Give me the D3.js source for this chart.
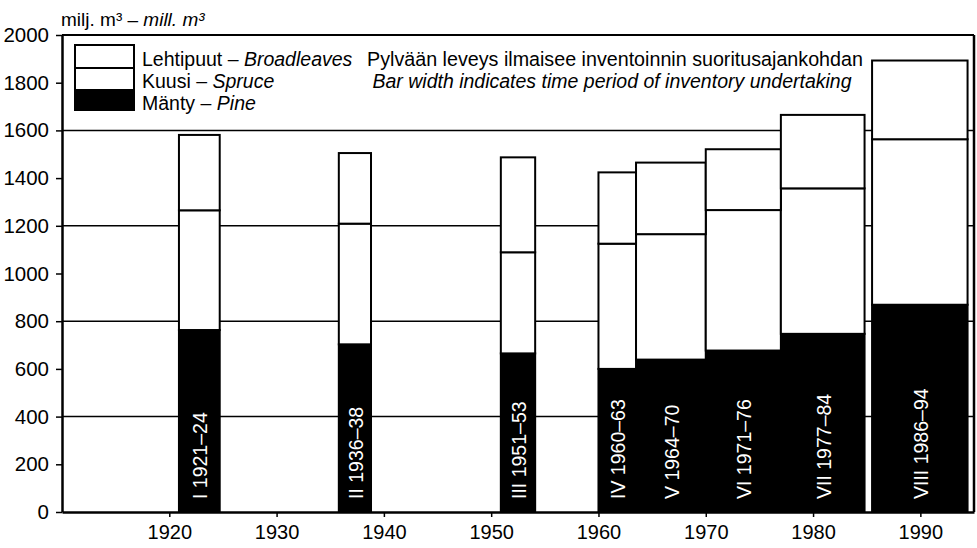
<!DOCTYPE html>
<html>
<head>
<meta charset="utf-8">
<script src="https://cdn.jsdelivr.net/npm/d3@7"></script>
<style>
  body { margin: 0; background: #fff; }
  svg { display: block; font-family: "Liberation Sans", Arial, sans-serif; }
</style>
</head>
<body>
<svg id="chart"></svg>
<script>
// inventory rounds, their periods and volumes (mill. m3)
var inventories = ['I', 'II', 'III', 'IV', 'V', 'VI', 'VII', 'VIII']
var periods = ['1921–24', '1936–38', '1951–53', '1960–63', '1964–70', '1971–76', '1977–84', '1986–94']
var startYear = [1920.9, 1935.8, 1950.9, 1960.0, 1963.5, 1970.0, 1977.0, 1985.5]
var endYear = [1924.7, 1938.8, 1954.1, 1963.5, 1970.0, 1977.0, 1984.8, 1994.4]
var pine = [763, 703, 665, 600, 639, 677, 747, 869]
var spruce = [502, 506, 424, 525, 526, 589, 610, 694]
var broadleaves = [316, 296, 398, 299, 300, 255, 308, 330]

var speciesKeys = ['pine', 'spruce', 'broadleaves']
var speciesFi = ['Lehtipuut', 'Kuusi', 'Mänty']
var speciesEn = ['Broadleaves', 'Spruce', 'Pine']
var speciesFill = { pine: '#000', spruce: '#fff', broadleaves: '#fff' }

var yTicks = [0, 200, 400, 600, 800, 1000, 1200, 1400, 1600, 1800, 2000]
var gridValues = [400, 800, 1200, 1600]
var xTicks = [1920, 1930, 1940, 1950, 1960, 1970, 1980, 1990]

var width = 977
var height = 548
var margin = { top: 35, left: 62, right: 3, bottom: 36 }
var innerWidth = width - margin.left - margin.right
var innerHeight = height - margin.top - margin.bottom

var svg = d3.select('#chart')
    .attr('width', width)
    .attr('height', height)
var g = svg.append('g')
    .attr('transform', 'translate(' + margin.left + ', ' + margin.top + ')')

var xScale = d3.scaleLinear().domain([1910, 1995]).range([0, innerWidth])
var yScale = d3.scaleLinear().domain([0, 2000]).range([innerHeight, 0])

var rows = inventories.map(function (d, i) {
    return { name: d, period: periods[i], start: startYear[i], end: endYear[i],
        pine: pine[i], spruce: spruce[i], broadleaves: broadleaves[i] }
})
var stacked = d3.stack().keys(speciesKeys)(rows)

// grid lines
g.append('g').selectAll('line')
    .data(gridValues)
    .enter()
    .append('line')
    .attr('x1', 0)
    .attr('x2', innerWidth)
    .attr('y1', function (d) { return yScale(d) })
    .attr('y2', function (d) { return yScale(d) })
    .attr('stroke', '#000')
    .attr('stroke-width', 1.5)

// bars
stacked.forEach(function (layer) {
    g.append('g').selectAll('rect')
        .data(layer)
        .enter()
        .append('rect')
        .attr('x', function (d) { return xScale(d.data.start) })
        .attr('width', function (d) { return xScale(d.data.end) - xScale(d.data.start) })
        .attr('y', function (d) { return yScale(d[1]) })
        .attr('height', function (d) { return yScale(d[0]) - yScale(d[1]) })
        .attr('fill', speciesFill[layer.key])
        .attr('stroke', '#000')
        .attr('stroke-width', 2)
})

// bar labels
g.append('g').selectAll('text')
    .data(rows)
    .enter()
    .append('text')
    .attr('transform', function (d) {
        return 'translate(' + (xScale((d.start + d.end) / 2) + 1) + ', ' + (innerHeight - 13) + ') rotate(-90)'
    })
    .attr('dy', '0.36em')
    .attr('fill', '#fff')
    .style('font-size', '19.5px')
    .text(function (d) { return d.name + ' ' + d.period })

// frame
g.append('line')
    .attr('x1', 0).attr('x2', innerWidth).attr('y1', 0).attr('y2', 0)
    .attr('stroke', '#000').attr('stroke-width', 2)
g.append('line')
    .attr('x1', innerWidth).attr('x2', innerWidth).attr('y1', 0).attr('y2', innerHeight)
    .attr('stroke', '#000').attr('stroke-width', 2.5)

// axes
var yAxis = d3.axisLeft(yScale).tickValues(yTicks).tickSize(6).tickPadding(7).tickSizeOuter(0)
    .tickFormat(d3.format('d'))
var yAxisG = g.append('g').call(yAxis)
yAxisG.select('.domain').attr('stroke-width', 2.5)
yAxisG.selectAll('line').attr('stroke-width', 1.5)
yAxisG.selectAll('text').style('font-size', '20.5px').attr('font-family', null)

var xAxis = d3.axisBottom(xScale).tickValues(xTicks).tickSize(5).tickPadding(8).tickSizeOuter(0)
    .tickFormat(d3.format('d'))
var xAxisG = g.append('g')
    .attr('transform', 'translate(0, ' + innerHeight + ')')
    .call(xAxis)
xAxisG.select('.domain').attr('stroke-width', 2.5)
xAxisG.selectAll('line').attr('stroke-width', 1.5)
xAxisG.selectAll('text').style('font-size', '20px').attr('font-family', null)

// unit label
var unit = svg.append('text')
    .attr('x', margin.left - 1)
    .attr('y', 26)
    .style('font-size', '19px')
unit.append('tspan').text('milj. m³ – ')
unit.append('tspan').style('font-style', 'italic').text('mill. m³')

// legend
var legendX = 75
var legendRows = [45, 68, 90, 110]
var legendKeys = ['broadleaves', 'spruce', 'pine']
legendKeys.forEach(function (k, i) {
    svg.append('rect')
        .attr('x', legendX)
        .attr('y', legendRows[i])
        .attr('width', 59)
        .attr('height', legendRows[i + 1] - legendRows[i])
        .attr('fill', speciesFill[k])
        .attr('stroke', '#000')
        .attr('stroke-width', 2)
})
speciesFi.forEach(function (name, i) {
    var t = svg.append('text')
        .attr('x', 142)
        .attr('y', 66 + i * 22)
        .style('font-size', '19.5px')
    t.append('tspan').text(name + ' – ')
    t.append('tspan').style('font-style', 'italic').text(speciesEn[i])
})

// note
svg.append('text')
    .attr('x', 615)
    .attr('y', 66)
    .attr('text-anchor', 'middle')
    .style('font-size', '19.7px')
    .text('Pylvään leveys ilmaisee inventoinnin suoritusajankohdan')
svg.append('text')
    .attr('x', 612)
    .attr('y', 88)
    .attr('text-anchor', 'middle')
    .style('font-size', '19.5px')
    .style('font-style', 'italic')
    .text('Bar width indicates time period of inventory undertaking')
</script>
</body>
</html>
